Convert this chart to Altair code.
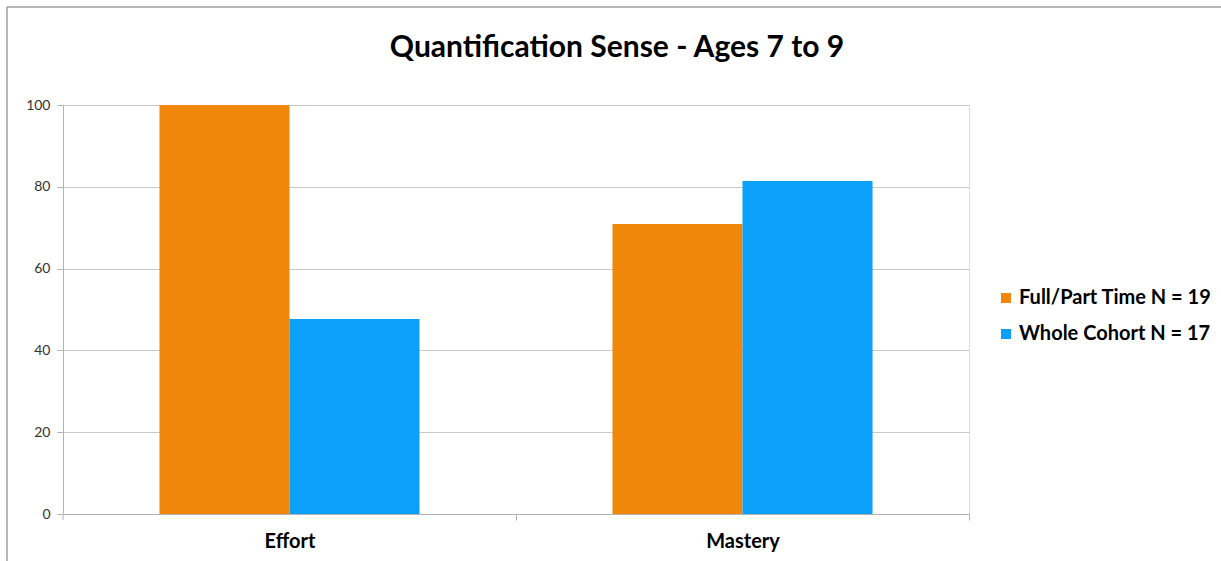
import altair as alt
import pandas as pd

title_text = "Quantification Sense - Ages 7 to 9"
categories = ["Effort", "Mastery"]
series = ["Full/Part Time N = 19", "Whole Cohort N = 17"]
full_part = [100, 70.9]
whole_cohort = [47.7, 81.4]
colors = ["#F0860A", "#0BA0FA"]
y_ticks = [0, 20, 40, 60, 80, 100]

rows = []
for i, c in enumerate(categories):
    rows.append({"category": c, "series": series[0], "value": full_part[i]})
    rows.append({"category": c, "series": series[1], "value": whole_cohort[i]})
df = pd.DataFrame(rows)

FONT = "Lato"
GRAY = "#b3b3b3"

bars = alt.Chart(df).mark_bar().encode(
    x=alt.X(
        "category:N",
        sort=categories,
        scale=alt.Scale(paddingInner=0.426, paddingOuter=0.213),
        axis=alt.Axis(
            title=None, labelAngle=0, labelFont=FONT, labelFontWeight="bold",
            labelFontSize=20, labelColor="#000", labelPadding=11,
            bandPosition=0.5, tickOffset=226.5, labelOffset=-226.5,
            tickColor=GRAY, tickSize=6, domainColor=GRAY, grid=False,
        ),
    ),
    xOffset=alt.XOffset("series:N", sort=series,
                        scale=alt.Scale(paddingInner=0, paddingOuter=0)),
    y=alt.Y(
        "value:Q",
        scale=alt.Scale(domain=[0, 100], nice=False),
        axis=alt.Axis(
            title=None, values=y_ticks, labelFont=FONT, labelFontSize=14,
            labelColor="#333", labelPadding=7, tickSize=6, tickColor=GRAY,
            domainColor=GRAY, gridColor="#c8c8c8",
        ),
    ),
    color=alt.Color(
        "series:N", sort=series,
        scale=alt.Scale(domain=series, range=colors),
        legend=alt.Legend(
            orient="none", legendX=933, legendY=183, title=None,
            symbolType="square", symbolSize=100, symbolStrokeWidth=0,
            labelFont=FONT, labelFontWeight="bold", labelFontSize=20,
            labelColor="#000", labelOffset=3, rowPadding=16, padding=0,
            labelLimit=400,
        ),
    ),
)

frame = alt.Data(values=[{"t": title_text}])
border_top = alt.Chart(frame).mark_rule(color="#a0a0a0", strokeWidth=1.5).encode(
    x=alt.value(-56), x2=alt.value(1221 - 63), y=alt.value(-98)
)
border_left = alt.Chart(frame).mark_rule(color="#a0a0a0", strokeWidth=1.5).encode(
    x=alt.value(-56), y=alt.value(-98), y2=alt.value(561 - 105)
)
axis_stub = alt.Chart(frame).mark_rule(color=GRAY, strokeWidth=1).encode(
    x=alt.value(0), y=alt.value(409), y2=alt.value(415)
)
title = alt.Chart(frame).mark_text(
    font=FONT, fontSize=30, fontWeight="bold", color="#000",
    align="center", baseline="alphabetic",
).encode(text="t:N", x=alt.value(617 - 63), y=alt.value(57 - 105))

chart = alt.layer(bars, border_top, border_left, axis_stub, title).properties(
    width=906,
    height=409,
    autosize=alt.AutoSizeParams(type="none"),
    padding={"left": 63, "top": 105, "right": 252, "bottom": 47},
).configure_view(stroke="transparent", strokeWidth=0).configure(background="white")

chart.save("out.html", embed_options={"renderer": "svg", "actions": False})
